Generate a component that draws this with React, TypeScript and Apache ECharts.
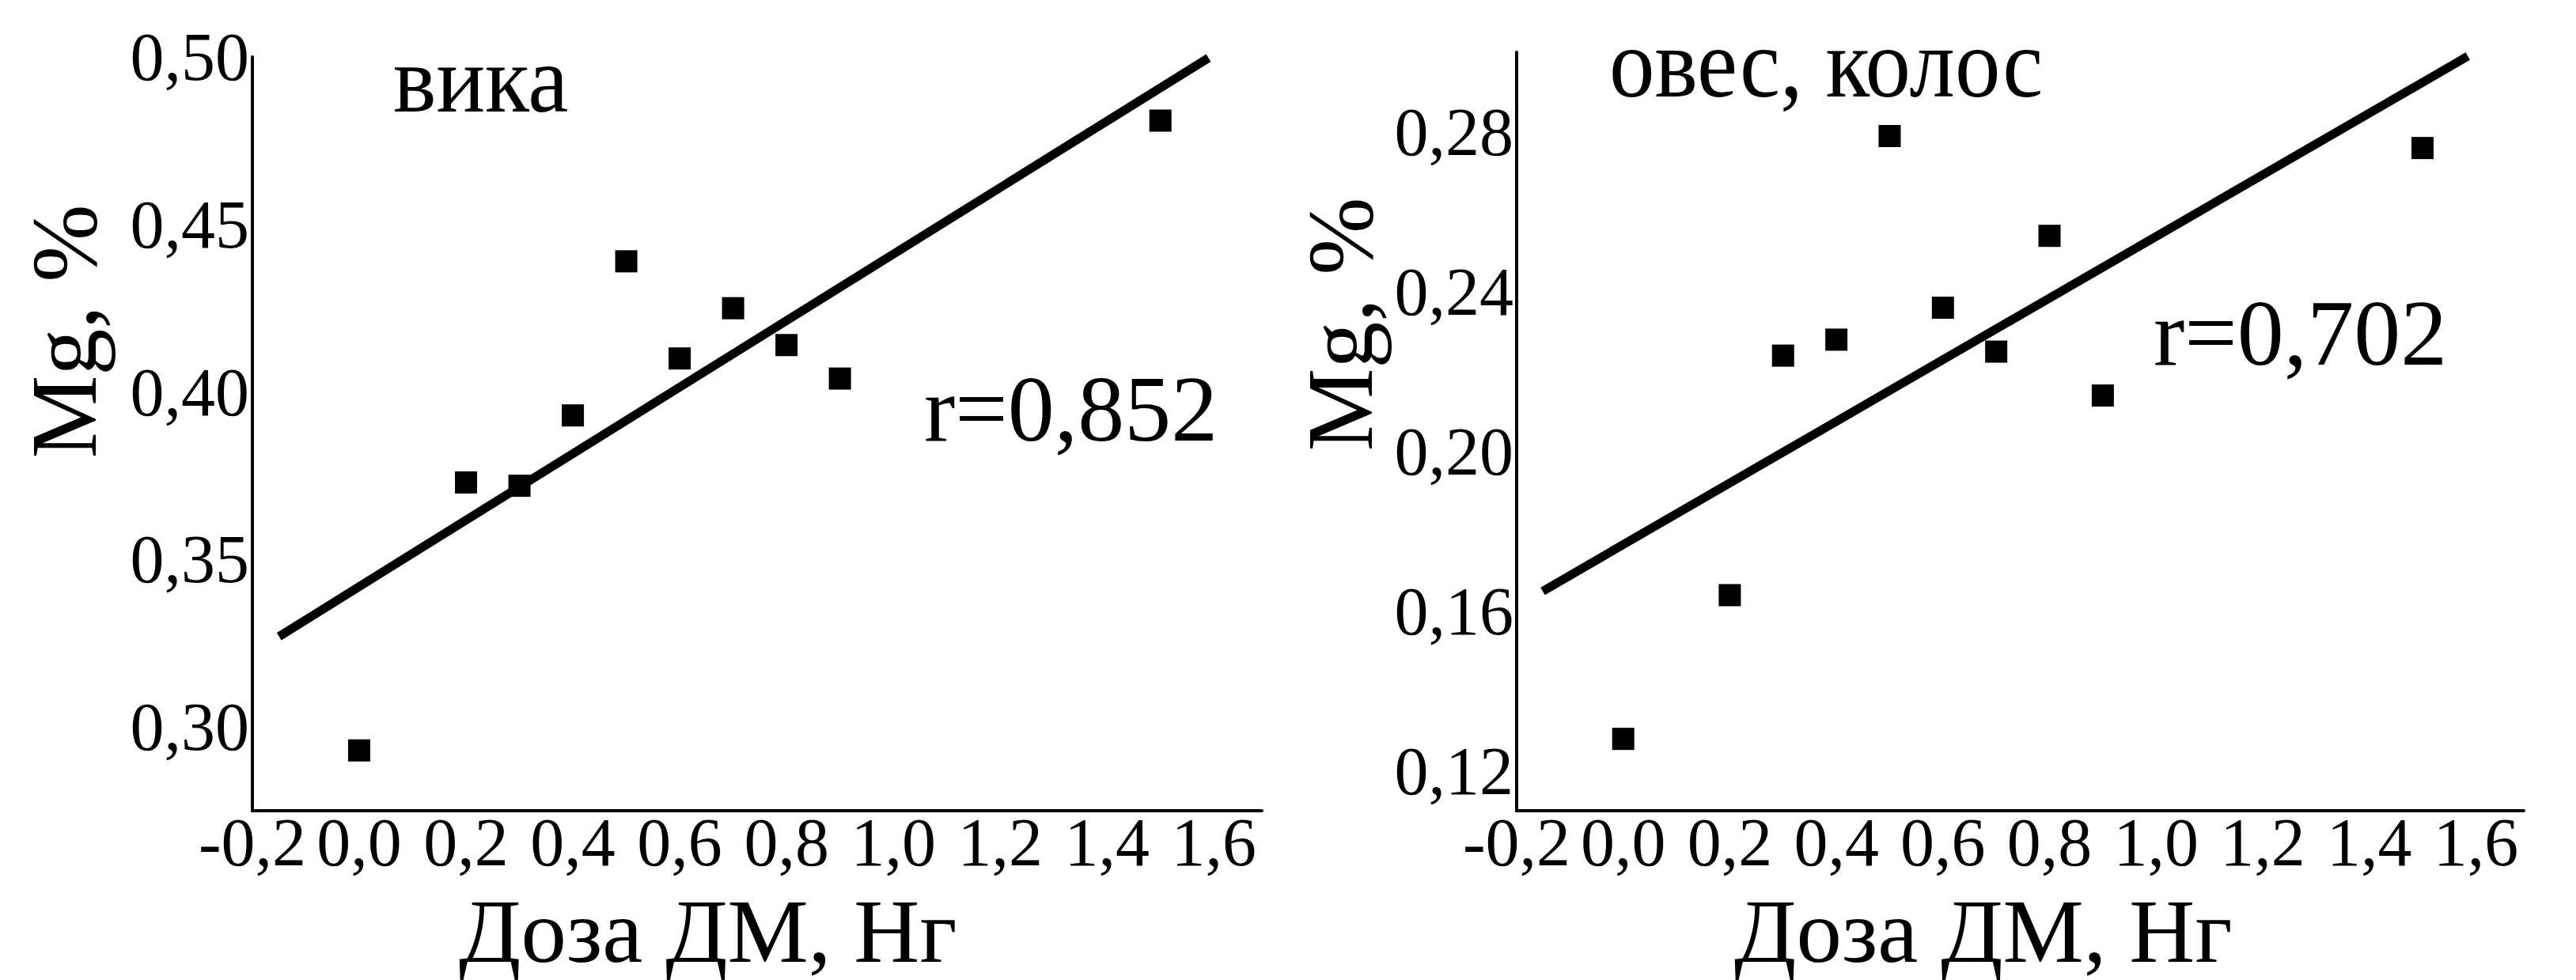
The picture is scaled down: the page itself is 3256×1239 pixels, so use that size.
import React, { useEffect, useRef } from "react";
import * as echarts from "echarts";

// ---- data ----
const doseX: number[] = [0, 0.2, 0.3, 0.4, 0.5, 0.6, 0.7, 0.8, 0.9, 1.5];
const vikaMg: number[] = [0.293, 0.373, 0.372, 0.393, 0.439, 0.41, 0.425, 0.414, 0.404, 0.481];
const ovesMg: number[] = [0.128, 0.164, 0.224, 0.228, 0.279, 0.236, 0.225, 0.254, 0.214, 0.276];
const vikaFitX: number[] = [-0.15, 1.59];
const vikaFitY: number[] = [0.327, 0.4997];
const ovesFitX: number[] = [-0.151, 1.585];
const ovesFitY: number[] = [0.165, 0.299];
const xTitle = "Доза ДМ, Нг";
const yTitle = "Mg, %";
const panelNames: string[] = ["вика", "овес, колос"];
const rLabels: string[] = ["r=0,852", "r=0,702"];

const FONT = '"Liberation Serif", "Times New Roman", serif';

const fmt = (step: number, decimals: number) => (v: number) => {
  const k = v / step;
  const r = Math.round(k);
  if (Math.abs(k - r) > 1e-6) return "";
  const val = r * step;
  return (Math.abs(val) < 1e-9 ? 0 : val).toFixed(decimals).replace(".", ",");
};

const axisLine = { show: true, onZero: false, lineStyle: { color: "#000", width: 4 } };

function xAxis(gridIndex: number) {
  return {
    type: "value",
    gridIndex,
    min: -0.2,
    max: 1.69,
    interval: 0.1,
    axisLine,
    axisTick: { show: false },
    splitLine: { show: false },
    axisLabel: {
      formatter: fmt(0.2, 1),
      color: "#000",
      fontFamily: FONT,
      fontSize: 86,
      margin: -3,
    },
  };
}

function yAxis(gridIndex: number, min: number, max: number, interval: number, labelStep: number) {
  return {
    type: "value",
    gridIndex,
    min,
    max,
    interval,
    axisLine,
    axisTick: { show: false },
    splitLine: { show: false },
    axisLabel: {
      formatter: fmt(labelStep, 2),
      color: "#000",
      fontFamily: FONT,
      fontSize: 86,
      margin: 4,
    },
  };
}

function pairs(xs: number[], ys: number[]) {
  return xs.map((x, i) => [x, ys[i]]);
}

function text(x: number, y: number, s: string, size: number, opts: any = {}) {
  return {
    type: "text",
    x,
    y,
    rotation: opts.rotation || 0,
    scaleX: opts.scaleX || 1,
    style: {
      text: s,
      fill: "#000",
      fontFamily: FONT,
      fontSize: size,
      align: opts.align || "left",
      verticalAlign: "middle",
    },
  };
}

export default function App() {
  const ref = useRef<HTMLDivElement>(null);
  useEffect(() => {
    if (!ref.current) return;
    const chart = echarts.init(ref.current, null, { renderer: "svg" });
    chart.setOption({
      animation: false,
      backgroundColor: "#fff",
      grid: [
        { left: 319, top: 72, width: 1276, height: 953 },
        { left: 1917, top: 66, width: 1273, height: 959 },
      ],
      xAxis: [xAxis(0), xAxis(1)],
      yAxis: [yAxis(0, 0.275, 0.5, 0.025, 0.05), yAxis(1, 0.11, 0.3, 0.01, 0.04)],
      series: [
        {
          type: "line",
          xAxisIndex: 0,
          yAxisIndex: 0,
          data: pairs(vikaFitX, vikaFitY),
          symbol: "none",
          lineStyle: { color: "#000", width: 11, cap: "butt" },
        },
        {
          type: "scatter",
          xAxisIndex: 0,
          yAxisIndex: 0,
          data: pairs(doseX, vikaMg),
          symbol: "rect",
          symbolSize: 28,
          itemStyle: { color: "#000", opacity: 1 },
        },
        {
          type: "line",
          xAxisIndex: 1,
          yAxisIndex: 1,
          data: pairs(ovesFitX, ovesFitY),
          symbol: "none",
          lineStyle: { color: "#000", width: 11, cap: "butt" },
        },
        {
          type: "scatter",
          xAxisIndex: 1,
          yAxisIndex: 1,
          data: pairs(doseX, ovesMg),
          symbol: "rect",
          symbolSize: 28,
          itemStyle: { color: "#000", opacity: 1 },
        },
      ],
      graphic: [
        text(580, 1177, xTitle, 115),
        text(2192, 1177, xTitle, 115),
        text(81, 419, yTitle, 118, { rotation: Math.PI / 2, align: "center" }),
        text(1694, 410, yTitle, 118, { rotation: Math.PI / 2, align: "center" }),
        text(497, 100, panelNames[0], 120, { scaleX: 0.96 }),
        text(2034, 80, panelNames[1], 125, { scaleX: 0.92 }),
        text(1168, 517, rLabels[0], 118),
        text(2722, 421, rLabels[1], 118),
      ],
    });
    return () => chart.dispose();
  }, []);
  return (
    <div
      ref={ref}
      style={{ position: "absolute", left: 0, top: 0, width: 3256, height: 1239, background: "#fff" }}
    />
  );
}
